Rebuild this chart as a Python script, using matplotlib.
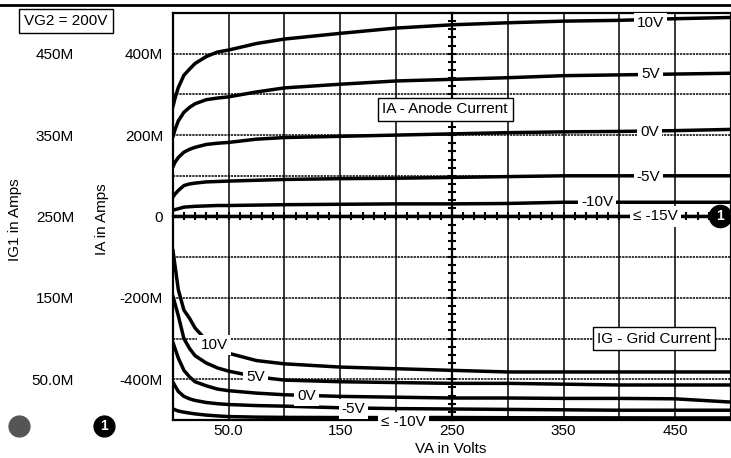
import matplotlib.pyplot as plt
import numpy as np
from matplotlib.ticker import MultipleLocator, NullFormatter
from matplotlib.lines import Line2D

plt.rcParams['font.family'] = ['Liberation Sans', 'DejaVu Sans']
plt.rcParams['font.size'] = 11

# anode voltage (V)
va = [0, 2, 5, 10, 15, 20, 30, 40, 50, 75, 100, 150, 200, 250, 300, 350, 400, 450, 500]

# anode current IA (mA) for each grid-1 voltage
ia_p10 = [268, 290, 317, 347, 362, 376, 393, 404, 409, 425, 436, 450, 463, 471, 476, 480, 482, 486, 489]
ia_p5 = [194, 213, 235, 256, 268, 277, 287, 291, 294, 306, 316, 325, 333, 337, 341, 346, 348, 350, 352]
ia_0 = [121, 133, 145, 158, 165, 170, 177, 180, 182, 190, 194, 197, 200, 203, 206, 208, 209, 211, 214]
ia_m5 = [47, 55, 64, 76, 80, 82, 85, 86, 87, 89, 91, 93, 94, 96, 98, 100, 100, 100, 100]
ia_m10 = [15, 17, 19, 23, 24, 25, 26, 27, 27, 28, 29, 30, 31, 31, 32, 35, 35, 35, 35]
ia_m15 = [0] * len(va)

# grid current IG1 (mA)
ig_p10 = [210, 190, 160, 135, 125, 113, 98, 89, 82, 73, 69, 65, 63, 61, 59, 59, 59, 59, 59]
ig_p5 = [153, 143, 128, 100, 88, 79, 70, 64, 60, 53, 49, 47, 46, 45, 45, 44, 43, 43, 43]
ig_0 = [96, 88, 76, 61, 53, 47, 42, 38, 36, 33, 31, 29, 28, 27, 27, 26.5, 26.5, 26, 22]
ig_m5 = [47, 42, 35, 29, 26, 24, 21.5, 20, 19, 17.7, 17, 15, 14, 13.5, 13, 12.5, 12, 12, 12]
ig_m10 = [14, 12.5, 11, 9.6, 8.5, 7.5, 6, 5, 4.2, 3.5, 3.2, 3, 3, 3, 2.8, 2.7, 2.6, 2.5, 2.5]

anode_curves = [ia_p10, ia_p5, ia_0, ia_m5, ia_m10, ia_m15]
anode_labels = ['10V', '5V', '0V', '-5V', '-10V', '\u2264 -15V']
anode_label_pos = [(428, 476), (428, 350), (427, 207), (426, 96), (380, 35), (432, 0)]

grid_curves = [ig_p10, ig_p5, ig_0, ig_m5, ig_m10]
grid_labels = ['10V', '5V', '0V', '-5V', '\u2264 -10V']
grid_label_pos = [(37, 92), (74, 53), (120, 30), (162, 14), (207, -2)]

x_ticks = np.arange(0, 501, 50)
x_tick_labels = ['', '50.0', '', '150', '', '250', '', '350', '', '450', '']
ia_ticks = np.arange(-500, 501, 100)
ia_tick_labels = ['', '-400M', '', '-200M', '', '0', '', '200M', '', '400M', '']
ig_ticks = [50, 150, 250, 350, 450]
ig_tick_labels = ['50.0M', '150M', '250M', '350M', '450M']

fig = plt.figure(figsize=(7.31, 4.58), dpi=100)
pos = [0.2363, 0.083, 0.7637, 0.8886]
ax = fig.add_axes(pos)
ax.set_xlim(0, 500)
ax.set_ylim(-500, 500)
ax.set_xticks(x_ticks)
ax.set_xticklabels(x_tick_labels)
ax.set_yticks(ia_ticks)
ax.set_yticklabels(ia_tick_labels)
ax.tick_params(axis='x', length=0, pad=3)
ax.tick_params(axis='y', length=0, pad=7)
ax.grid(axis='x', color='black', lw=1.1)
ax.grid(axis='y', color='black', lw=1.1, ls=(0, (1.5, 0.6)))
for s in ax.spines.values():
    s.set_linewidth(1.6)

for ys in anode_curves:
    ax.plot(va, ys, color='black', lw=2.5, solid_capstyle='butt', zorder=3)

# grid current on its own scale
ax2 = ax.twinx()
ax2.set_ylim(0, 500)
ax2.yaxis.tick_left()
ax2.set_yticks(ig_ticks)
ax2.set_yticklabels(ig_tick_labels)
ax2.tick_params(axis='y', length=0, pad=71)
for s in ax2.spines.values():
    s.set_visible(False)
for ys in grid_curves:
    ax2.plot(va, ys, color='black', lw=2.5, solid_capstyle='butt', zorder=3)

# overlay axes: the crossed axes through VA=250 and IA=0
axz = fig.add_axes(pos)
axz.patch.set_visible(False)
axz.set_xlim(0, 500)
axz.set_ylim(-500, 500)
axz.spines['top'].set_visible(False)
axz.spines['right'].set_visible(False)
axz.spines['left'].set_position(('data', 250))
axz.spines['bottom'].set_position(('data', 0))
axz.spines['left'].set_linewidth(1.6)
axz.spines['bottom'].set_linewidth(1.6)
axz.xaxis.set_major_locator(MultipleLocator(10))
axz.yaxis.set_major_locator(MultipleLocator(20))
axz.xaxis.set_major_formatter(NullFormatter())
axz.yaxis.set_major_formatter(NullFormatter())
axz.tick_params(direction='inout', length=6, width=1.5)

lbl_box = dict(boxstyle='square,pad=0.2', fc='white', ec='none')
for txt, (x, y) in zip(anode_labels, anode_label_pos):
    axz.text(x, y, txt, ha='center', va='center', bbox=lbl_box, zorder=6)
for txt, (x, y) in zip(grid_labels, grid_label_pos):
    axz.text(x, y, txt, ha='center', va='center', bbox=lbl_box, zorder=6,
             transform=ax2.transData, clip_on=False)

axz.plot([490], [0], marker='o', ms=16, color='black', zorder=7, clip_on=False)
axz.text(490, 0, '1', color='white', fontweight='bold', fontsize=10,
         ha='center', va='center', zorder=8)

note_box = dict(boxstyle='square,pad=0.3', fc='white', ec='black', lw=1)
axz.text(244, 263, 'IA - Anode Current', ha='center', va='center', bbox=note_box, zorder=6)
axz.text(431, -300, 'IG - Grid Current', ha='center', va='center', bbox=note_box, zorder=6)

# figure decorations
fig.add_artist(Line2D([0, 1], [1 - 5 / 458, 1 - 5 / 458], color='black', lw=2,
                      transform=fig.transFigure))
fig.text(66 / 731, 1 - 21 / 458, 'VG2 = 200V', ha='center', va='center',
         bbox=dict(boxstyle='square,pad=0.35', fc='white', ec='black', lw=1))
fig.text(15 / 731, 1 - 220 / 458, 'IG1 in Amps', rotation=90, ha='center', va='center')
fig.text(102 / 731, 1 - 219 / 458, 'IA in Amps', rotation=90, ha='center', va='center')
fig.text(451 / 731, 1 - 449 / 458, 'VA in Volts', ha='center', va='center')

fig.add_artist(Line2D([19 / 731], [1 - 426 / 458], marker='o', ms=15, color='#555555',
                      transform=fig.transFigure))
fig.add_artist(Line2D([104 / 731], [1 - 426 / 458], marker='o', ms=15, color='black',
                      transform=fig.transFigure))
fig.text(104 / 731, 1 - 426 / 458, '1', color='white', fontweight='bold', fontsize=10,
         ha='center', va='center')

fig.savefig('out.png', dpi=100)
